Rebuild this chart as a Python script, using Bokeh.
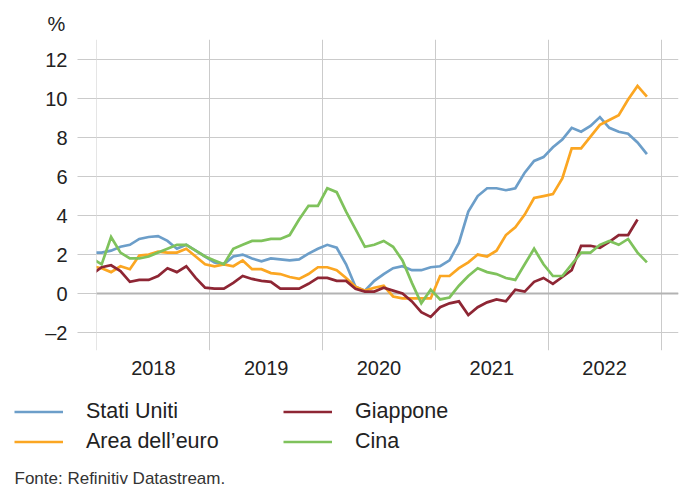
from bokeh.plotting import figure
from bokeh.models import (ColumnDataSource, FixedTicker, Range1d, Span, Legend,
                          LegendItem, Title, Label)
from bokeh.embed import file_html
from bokeh.resources import INLINE

# ---------------- data ----------------
# month index: 0 = Jan 2018 ; first value is Dec 2017 (-1)
start_month = -1
years = ["2018", "2019", "2020", "2021", "2022"]
series_names = ["Stati Uniti", "Area dell\u2019euro", "Giappone", "Cina"]

stati_uniti = [2.1,
               2.1, 2.2, 2.4, 2.5, 2.8, 2.9, 2.95, 2.7, 2.3, 2.5, 2.2, 1.9,
               1.6, 1.5, 1.9, 2.0, 1.8, 1.65, 1.8, 1.75, 1.7, 1.75, 2.05, 2.3,
               2.5, 2.35, 1.5, 0.35, 0.15, 0.65, 1.0, 1.3, 1.4, 1.2, 1.2, 1.35,
               1.4, 1.7, 2.6, 4.2, 5.0, 5.4, 5.4, 5.3, 5.4, 6.2, 6.8, 7.0,
               7.5, 7.9, 8.5, 8.3, 8.6, 9.05, 8.5, 8.3, 8.2, 7.75, 7.15]
area_euro = [1.4,
             1.3, 1.1, 1.4, 1.25, 1.95, 2.0, 2.15, 2.1, 2.1, 2.3, 1.9, 1.5,
             1.4, 1.5, 1.4, 1.7, 1.25, 1.25, 1.05, 1.0, 0.85, 0.75, 1.0, 1.35,
             1.35, 1.2, 0.8, 0.35, 0.15, 0.3, 0.4, -0.15, -0.25, -0.25, -0.25, -0.25,
             0.9, 0.9, 1.3, 1.6, 2.0, 1.9, 2.2, 3.0, 3.4, 4.05, 4.9, 5.0,
             5.1, 5.9, 7.45, 7.45, 8.05, 8.65, 8.9, 9.15, 9.95, 10.65, 10.1]
giappone = [1.0,
            1.35, 1.45, 1.15, 0.6, 0.7, 0.7, 0.9, 1.3, 1.1, 1.4, 0.8, 0.3,
            0.25, 0.25, 0.55, 0.9, 0.75, 0.65, 0.6, 0.25, 0.25, 0.25, 0.5, 0.8,
            0.8, 0.65, 0.65, 0.25, 0.1, 0.1, 0.3, 0.15, 0.0, -0.4, -0.95, -1.2,
            -0.7, -0.5, -0.4, -1.1, -0.7, -0.45, -0.3, -0.4, 0.2, 0.1, 0.6, 0.8,
            0.5, 0.85, 1.2, 2.45, 2.45, 2.35, 2.65, 3.0, 3.0, 3.8]
cina = [1.8,
        1.5, 2.9, 2.1, 1.8, 1.8, 1.9, 2.1, 2.3, 2.5, 2.5, 2.2, 1.9,
        1.7, 1.5, 2.3, 2.5, 2.7, 2.7, 2.8, 2.8, 3.0, 3.8, 4.5, 4.5,
        5.4, 5.2, 4.2, 3.3, 2.4, 2.5, 2.7, 2.4, 1.7, 0.55, -0.5, 0.2,
        -0.3, -0.2, 0.4, 0.9, 1.3, 1.1, 1.0, 0.8, 0.7, 1.5, 2.3, 1.5,
        0.9, 0.9, 1.5, 2.1, 2.1, 2.5, 2.7, 2.5, 2.8, 2.1, 1.6]

colors = ["#6c9ec9", "#fba622", "#8e2634", "#7fc25c"]
all_series = [stati_uniti, area_euro, giappone, cina]

FONT = "Liberation Sans"
GRID = "#cbcbcb"
TXT = "#222222"
LW = 2.7

# ---------------- main chart ----------------
p = figure(width=686, height=386, output_backend="svg", toolbar_location=None,
           x_range=Range1d(-0.05, 61.86), y_range=Range1d(-2.92, 13.03),
           min_border_left=96, min_border_right=8, min_border_top=39,
           min_border_bottom=36)
p.outline_line_color = None
p.background_fill_color = "white"
p.border_fill_color = "white"

p.xgrid.ticker = FixedTicker(ticks=[12 * i for i in range(len(years) + 1)])
p.xgrid.grid_line_color = GRID
p.xgrid.grid_line_width = 1
p.ygrid.ticker = FixedTicker(ticks=list(range(-2, 13, 2)))
p.ygrid.grid_line_color = GRID
p.ygrid.grid_line_width = 1

p.add_layout(Span(location=0, dimension="width", line_color="#b3b3b3",
                  line_width=2, level="underlay"))

xa = p.xaxis[0]
xa.ticker = FixedTicker(ticks=[12 * i + 6 for i in range(len(years))])
xa.major_label_overrides = {12 * i + 6: y for i, y in enumerate(years)}
xa.axis_line_color = None
xa.major_tick_line_color = None
xa.major_tick_out = 0
xa.major_tick_in = 0
xa.minor_tick_line_color = None
xa.major_label_standoff = 10
xa.major_label_text_font = FONT
xa.major_label_text_font_size = "20px"
xa.major_label_text_color = TXT

ya = p.yaxis[0]
ya.ticker = FixedTicker(ticks=list(range(-2, 13, 2)))
ya.major_label_overrides = {-2: "\u20132"}
ya.axis_line_color = None
ya.major_tick_in = 0
ya.major_tick_out = 19
ya.major_tick_line_color = GRID
ya.major_tick_line_width = 1
ya.minor_tick_line_color = None
ya.major_label_standoff = 10
ya.major_label_text_font = FONT
ya.major_label_text_font_size = "20px"
ya.major_label_text_color = TXT

for vals, col in zip(all_series, colors):
    xs = [start_month + i + 0.5 for i in range(len(vals))]
    src = ColumnDataSource(data=dict(x=xs, y=vals))
    p.line("x", "y", source=src, line_color=col, line_width=LW,
           line_join="miter")

p.add_layout(Title(text="%", align="left", offset=-49, standoff=9,
                   text_font=FONT, text_font_size="20px",
                   text_font_style="normal", text_color=TXT), "above")

# ---------------- legend + source strip (separate root, no frame alignment) ----
p2 = figure(width=686, height=102, output_backend="svg", toolbar_location=None,
            x_range=Range1d(0, 686), y_range=Range1d(0, 102),
            x_axis_type=None, y_axis_type=None, min_border=0,
            min_border_left=0, min_border_right=0, min_border_top=0,
            min_border_bottom=0)
p2.outline_line_color = None
p2.background_fill_color = "white"
p2.border_fill_color = "white"

nan = float("nan")
leg_renderers = []
for col in colors:
    leg_renderers.append(p2.line(x=[nan], y=[nan], line_color=col,
                                 line_width=LW))

legend = Legend(items=[LegendItem(label=n, renderers=[r])
                       for n, r in zip(series_names, leg_renderers)],
                location=(14, 33), orientation="vertical", nrows=2,
                glyph_width=49, glyph_height=27, label_height=27,
                label_width=194, label_standoff=23, spacing=3, padding=0,
                margin=0, border_line_color=None, background_fill_alpha=0,
                label_text_font=FONT, label_text_font_size="21.5px",
                label_text_color=TXT)
p2.add_layout(legend)

p2.add_layout(Label(x=14, y=10, x_units="screen", y_units="screen",
                    text="Fonte: Refinitiv Datastream.", text_font=FONT,
                    text_font_size="17px", text_color="#333333",
                    text_baseline="middle"))

open("out.html", "w").write(file_html([p, p2], INLINE))
